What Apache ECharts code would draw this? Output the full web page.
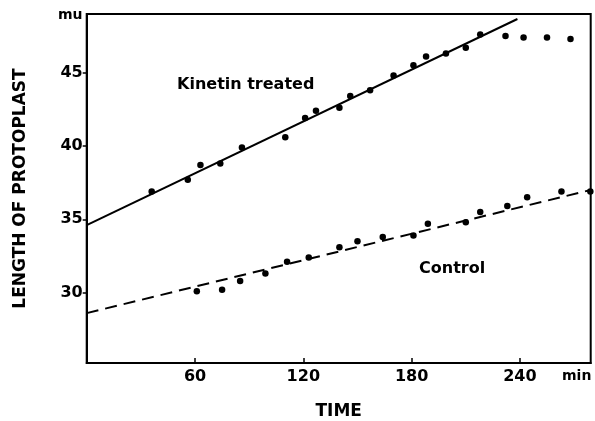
<!DOCTYPE html>
<html>
<head>
<meta charset="utf-8">
<script src="https://cdn.jsdelivr.net/npm/echarts@6/dist/echarts.min.js"></script>
<style>
  html, body { margin: 0; padding: 0; background: #fff; }
  #chart { width: 595px; height: 421px; }
</style>
</head>
<body>
<div id="chart"></div>
<script>
// kinetin treated protoplasts (min, mu)
const kinetinTime = [36, 56, 63, 74, 86, 110, 121, 127, 140, 146, 157, 170, 181, 188, 199, 210, 218, 232, 242, 255, 268];
const kinetinLength = [36.9, 37.7, 38.7, 38.8, 39.9, 40.6, 41.9, 42.4, 42.6, 43.4, 43.8, 44.8, 45.5, 46.1, 46.3, 46.7, 47.6, 47.5, 47.4, 47.4, 47.3];
// control protoplasts
const controlTime = [61, 75, 85, 99, 111, 123, 140, 150, 164, 181, 189, 210, 218, 233, 244, 263, 279];
const controlLength = [30.1, 30.2, 30.8, 31.3, 32.1, 32.4, 33.1, 33.5, 33.8, 33.9, 34.7, 34.8, 35.5, 35.9, 36.5, 36.9, 36.9];
// fitted lines (end points)
const kinetinFitTime = [0, 238.6];
const kinetinFitLength = [34.6, 48.66];
const controlFitTime = [0, 279.2];
const controlFitLength = [28.6, 37.0];
// tick labels
const xTicks = [60, 120, 180, 240];
const yTicks = [30, 35, 40, 45];

const ink = '#000';
const font = 'DejaVu Sans';
const pairs = (xs, ys) => xs.map((x, i) => [x, ys[i]]);

const chart = echarts.init(document.getElementById('chart'));

const option = {
  backgroundColor: '#fff',
  animation: false,
  grid: {
    left: 86.7, right: 4.3, top: 14, bottom: 58,
    outerBoundsMode: 'none', // keep the box where it is
    show: true, borderColor: ink, borderWidth: 2
  },
  xAxis: {
    type: 'value', min: 0, max: 279.2,
    name: 'TIME', nameLocation: 'middle', nameGap: 40,
    nameTextStyle: { color: ink, fontFamily: font, fontWeight: 'bold', fontSize: 17 },
    axisLine: { show: true, onZero: false, lineStyle: { color: ink, width: 2 } },
    axisTick: { show: true, inside: true, length: 5, customValues: xTicks, lineStyle: { color: ink, width: 1.5 } },
    axisLabel: { customValues: xTicks, color: ink, fontFamily: font, fontWeight: 'bold', fontSize: 16, margin: 6 },
    splitLine: { show: false }
  },
  yAxis: {
    type: 'value', min: 25.2, max: 49,
    name: 'LENGTH OF PROTOPLAST', nameLocation: 'middle', nameRotate: 90, nameGap: 58,
    nameTextStyle: { color: ink, fontFamily: font, fontWeight: 'bold', fontSize: 17 },
    axisLine: { show: true, onZero: false, lineStyle: { color: ink, width: 2 } },
    axisTick: { show: true, length: 4, customValues: yTicks, lineStyle: { color: ink, width: 1.5 } },
    axisLabel: { customValues: yTicks, color: ink, fontFamily: font, fontWeight: 'bold', fontSize: 16, margin: 4 },
    splitLine: { show: false }
  },
  graphic: [
    { type: 'text', left: 58, top: 8, style: { text: 'mu', fill: ink, font: 'bold 14px "DejaVu Sans"' } },
    { type: 'text', left: 562, top: 369, style: { text: 'min', fill: ink, font: 'bold 14px "DejaVu Sans"' } },
    { type: 'text', left: 177, top: 77, style: { text: 'Kinetin treated', fill: ink, font: 'bold 16px "DejaVu Sans"' } },
    { type: 'text', left: 419, top: 261, style: { text: 'Control', fill: ink, font: 'bold 16px "DejaVu Sans"' } }
  ],
  series: [
    {
      type: 'line', data: pairs(kinetinFitTime, kinetinFitLength),
      showSymbol: false, lineStyle: { color: ink, width: 2 }
    },
    {
      type: 'line', data: pairs(controlFitTime, controlFitLength),
      showSymbol: false, lineStyle: { color: ink, width: 2, type: [12, 7] }
    },
    {
      type: 'scatter', data: pairs(kinetinTime, kinetinLength),
      symbolSize: 6.5, itemStyle: { color: ink, opacity: 1 }
    },
    {
      type: 'scatter', data: pairs(controlTime, controlLength),
      symbolSize: 6.5, itemStyle: { color: ink, opacity: 1 }
    }
  ]
};

chart.setOption(option);
</script>
</body>
</html>
